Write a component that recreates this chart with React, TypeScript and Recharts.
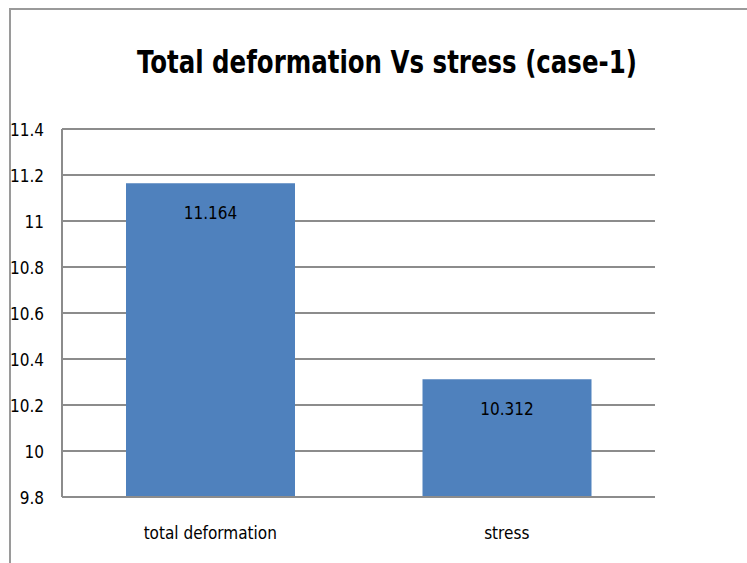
import { BarChart, Bar, XAxis, YAxis, CartesianGrid, LabelList } from 'recharts';

const categories = ['total deformation', 'stress'];
const values = [11.164, 10.312];
const yTicks = [9.8, 10, 10.2, 10.4, 10.6, 10.8, 11, 11.2, 11.4];
const title = 'Total deformation Vs stress (case-1)';

const data = categories.map((name, i) => ({ name, value: values[i] }));

const narrow = '"DejaVu Sans Condensed", "DejaVu Sans", sans-serif';
const txt = { fontFamily: narrow, fontStretch: 'condensed' as const };

export default function App() {
  return (
    <div style={{ position: 'absolute', left: 0, top: 0, width: 747, height: 563, background: '#fff', overflow: 'hidden' }}>
      {/* chart frame, only top + left edges show */}
      <div style={{ position: 'absolute', left: 9, top: 8, width: 760, height: 600, borderTop: '2px solid #9a9a9a', borderLeft: '2px solid #9a9a9a' }} />
      <div style={{ position: 'absolute', left: 0, width: 774, top: 43, textAlign: 'center', transform: 'scaleX(0.85)', ...txt, fontWeight: 'bold', fontSize: 32, color: '#000' }}>
        {title}
      </div>
      <BarChart width={747} height={563} data={data} margin={{ top: 129, right: 92, bottom: 36, left: 10 }}>
        <CartesianGrid vertical={false} stroke="#8c8c8c" strokeWidth={2} />
        <XAxis
          dataKey="name"
          height={30}
          stroke="#8c8c8c"
          strokeWidth={2}
          tickLine={false}
          tick={{ fontSize: 17, fill: '#000', ...txt, dy: 22 }}
        />
        <YAxis
          width={52}
          domain={[9.8, 11.4]}
          ticks={yTicks}
          interval={0}
          stroke="#8c8c8c"
          strokeWidth={2}
          tickLine={false}
          tickFormatter={v => String(v)}
          tick={{ fontSize: 17, fill: '#000', ...txt, dx: -10, dy: 1 }}
        />
        <Bar dataKey="value" fill="#4f81bd" barSize={169} isAnimationActive={false}>
          <LabelList dataKey="value" position="insideTop" offset={24} style={{ fontSize: 17, fill: '#000', ...txt }} />
        </Bar>
      </BarChart>
    </div>
  );
}
